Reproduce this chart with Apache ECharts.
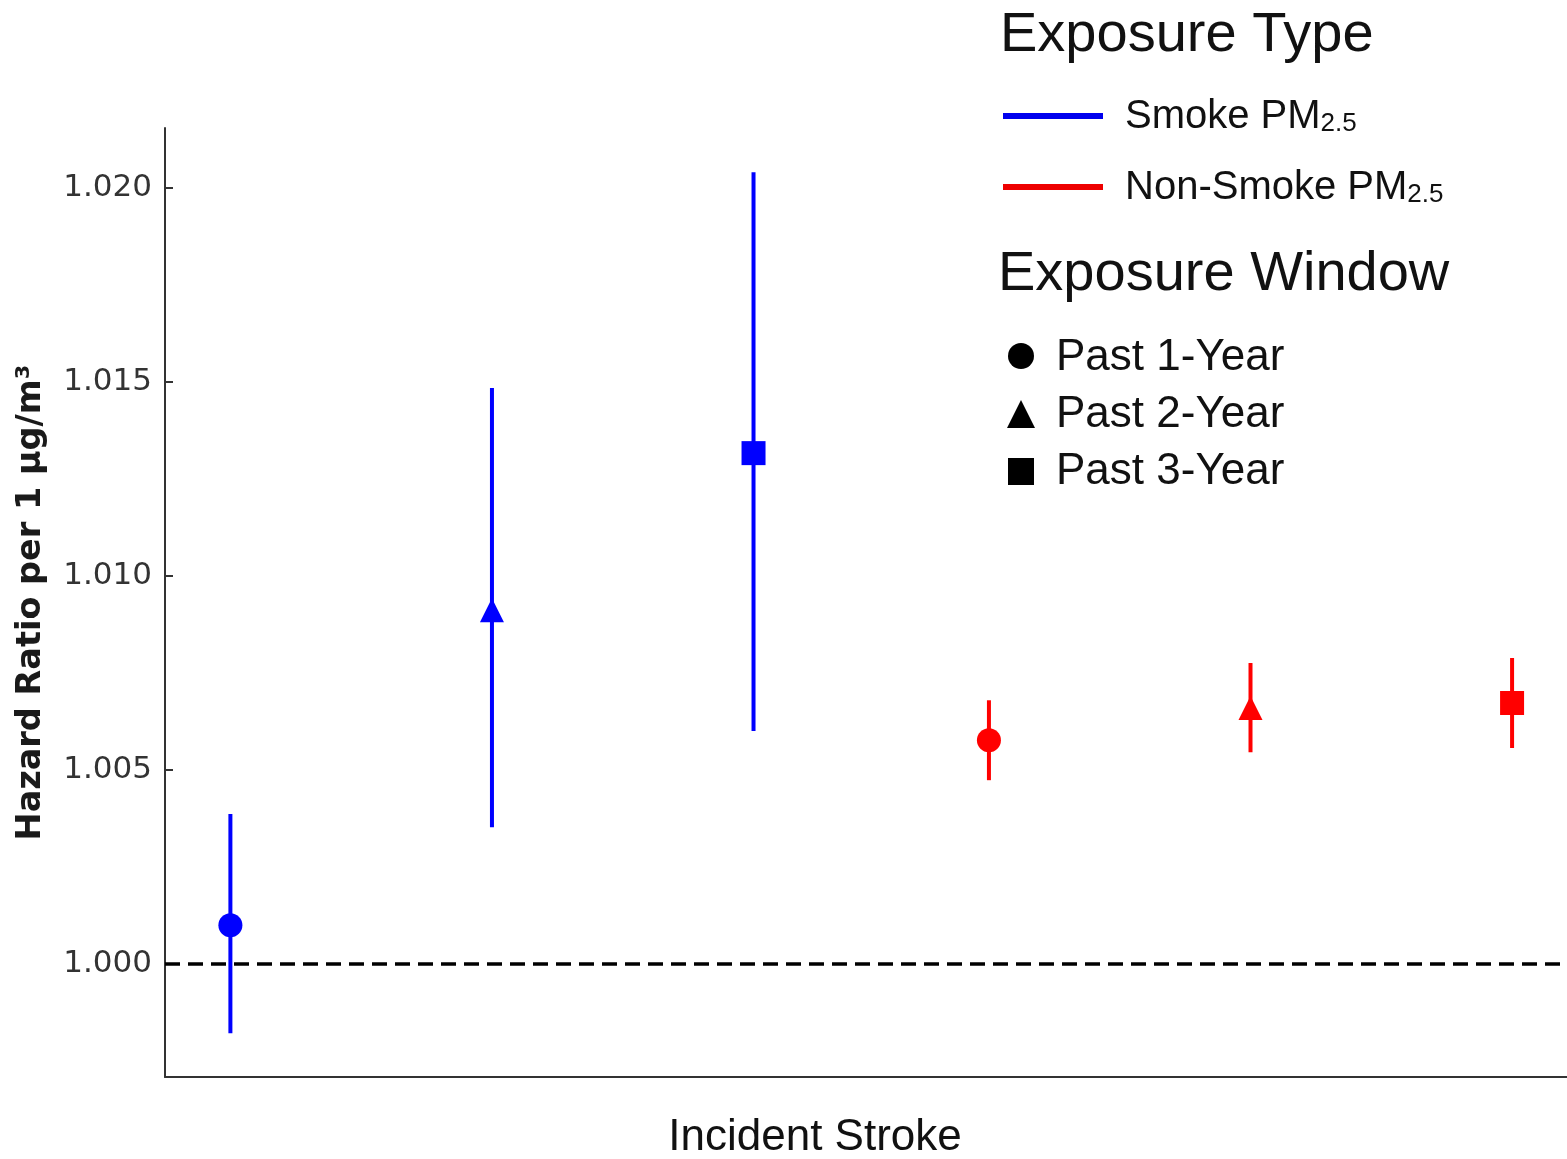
<!DOCTYPE html>
<html>
<head>
<meta charset="utf-8">
<script src="https://cdn.jsdelivr.net/npm/echarts@6/dist/echarts.min.js"></script>
<style>
  html, body { margin: 0; padding: 0; background: #fff; }
  #chart { width: 1567px; height: 1159px; }
</style>
</head>
<body>
<div id="chart"></div>
<script>
// positions along the (unlabelled) x axis, one per estimate
const xPositions = [1, 2, 3, 3.9, 4.9, 5.9];
const exposureTypes = ['Smoke', 'Smoke', 'Smoke', 'Non-Smoke', 'Non-Smoke', 'Non-Smoke'];
const exposureWindows = ['Past 1-Year', 'Past 2-Year', 'Past 3-Year', 'Past 1-Year', 'Past 2-Year', 'Past 3-Year'];
const hazardRatios = [1.0010, 1.00912, 1.01317, 1.00577, 1.00660, 1.00673];
const ciLower = [0.99822, 1.00353, 1.00601, 1.00474, 1.00546, 1.00557];
const ciUpper = [1.00387, 1.01485, 1.02041, 1.00680, 1.00776, 1.00789];
const yTicks = [1.000, 1.005, 1.010, 1.015, 1.020];

const typeColor = { 'Smoke': '#0000ff', 'Non-Smoke': '#ff0000' };
const windowSymbol = { 'Past 1-Year': 'circle', 'Past 2-Year': 'triangle', 'Past 3-Year': 'rect' };
const windowSize = { 'Past 1-Year': 24, 'Past 2-Year': 24, 'Past 3-Year': 24 };

const chart = echarts.init(document.getElementById('chart'));

const barData = xPositions.map((x, i) => ({
    value: [x, ciLower[i], ciUpper[i]],
    itemStyle: { color: typeColor[exposureTypes[i]] }
}));

const pointData = xPositions.map((x, i) => ({
    value: [x, hazardRatios[i]],
    symbol: windowSymbol[exposureWindows[i]],
    symbolSize: windowSize[exposureWindows[i]],
    itemStyle: { color: typeColor[exposureTypes[i]], opacity: 1 }
}));

const legendFont = 'Liberation Sans, Arial, sans-serif';

function legendLabel(x, y, main, size) {
    return {
        type: 'text', x: x, y: y,
        style: {
            text: main + '{sub|2.5}',
            font: size + 'px ' + legendFont,
            fill: '#111',
            verticalAlign: 'middle',
            rich: {
                sub: { fontSize: 26, fontFamily: legendFont, fill: '#111', verticalAlign: 'bottom', lineHeight: 34 }
            }
        }
    };
}

function plainText(x, y, text, size) {
    return {
        type: 'text', x: x, y: y,
        style: { text: text, font: size + 'px ' + legendFont, fill: '#111', verticalAlign: 'middle' }
    };
}

const option = {
    animation: false,
    backgroundColor: '#fff',
    grid: { left: 165, right: 0, top: 128, bottom: 82, outerBoundsMode: 'none', containLabel: false },
    xAxis: {
        type: 'value',
        min: 0.75,
        max: 6.11,
        axisLine: { show: true, onZero: false, lineStyle: { color: '#333', width: 2 } },
        axisTick: { show: false },
        axisLabel: { show: false },
        splitLine: { show: false }
    },
    yAxis: {
        type: 'value',
        min: 0.99709,
        max: 1.02155,
        name: 'Hazard Ratio per 1 μg/m³',
        nameLocation: 'middle',
        nameGap: 117,
        nameTextStyle: { fontFamily: 'DejaVu Sans', fontWeight: 'bold', fontSize: 33.5, color: '#1a1a1a' },
        axisLine: { show: true, lineStyle: { color: '#333', width: 2 } },
        axisTick: { show: true, inside: true, length: 8, customValues: yTicks, lineStyle: { color: '#333', width: 2 } },
        axisLabel: {
            customValues: yTicks,
            margin: 13,
            fontFamily: 'DejaVu Sans',
            fontSize: 31,
            color: '#333',
            formatter: v => v.toFixed(3)
        },
        splitLine: { show: false }
    },
    series: [
        {
            type: 'custom',
            data: barData,
            z: 3,
            renderItem: function (params, api) {
                const x = api.value(0);
                const lo = api.coord([x, api.value(1)]);
                const hi = api.coord([x, api.value(2)]);
                return {
                    type: 'line',
                    shape: { x1: lo[0], y1: lo[1], x2: hi[0], y2: hi[1] },
                    style: { stroke: api.visual('color'), lineWidth: 4 }
                };
            }
        },
        {
            type: 'scatter',
            data: pointData,
            z: 4,
            markLine: {
                silent: true,
                symbol: 'none',
                label: { show: false },
                lineStyle: { color: '#000', type: [15, 8], width: 3.5 },
                data: [{ yAxis: 1.000 }]
            }
        }
    ],
    graphic: [
        plainText(1000, 36, 'Exposure Type', 56),
        { type: 'line', shape: { x1: 1003, y1: 116, x2: 1103, y2: 116 }, style: { stroke: '#0000ee', lineWidth: 6 } },
        legendLabel(1125, 117, 'Smoke PM', 40),
        { type: 'line', shape: { x1: 1003, y1: 187, x2: 1103, y2: 187 }, style: { stroke: '#ee0000', lineWidth: 6 } },
        legendLabel(1125, 188, 'Non-Smoke PM', 40),
        plainText(998, 275, 'Exposure Window', 56),
        { type: 'circle', shape: { cx: 1021, cy: 356, r: 13 }, style: { fill: '#000' } },
        plainText(1056, 358, 'Past 1-Year', 44),
        { type: 'polygon', shape: { points: [[1021, 400], [1007, 428], [1035, 428]] }, style: { fill: '#000' } },
        plainText(1056, 415, 'Past 2-Year', 44),
        { type: 'rect', shape: { x: 1008, y: 458, width: 26, height: 27 }, style: { fill: '#000' } },
        plainText(1056, 472, 'Past 3-Year', 44),
        {
            type: 'text', x: 815, y: 1138,
            style: { text: 'Incident Stroke', font: '44px ' + legendFont, fill: '#111', align: 'center', verticalAlign: 'middle' }
        }
    ]
};

chart.setOption(option);
</script>
</body>
</html>
